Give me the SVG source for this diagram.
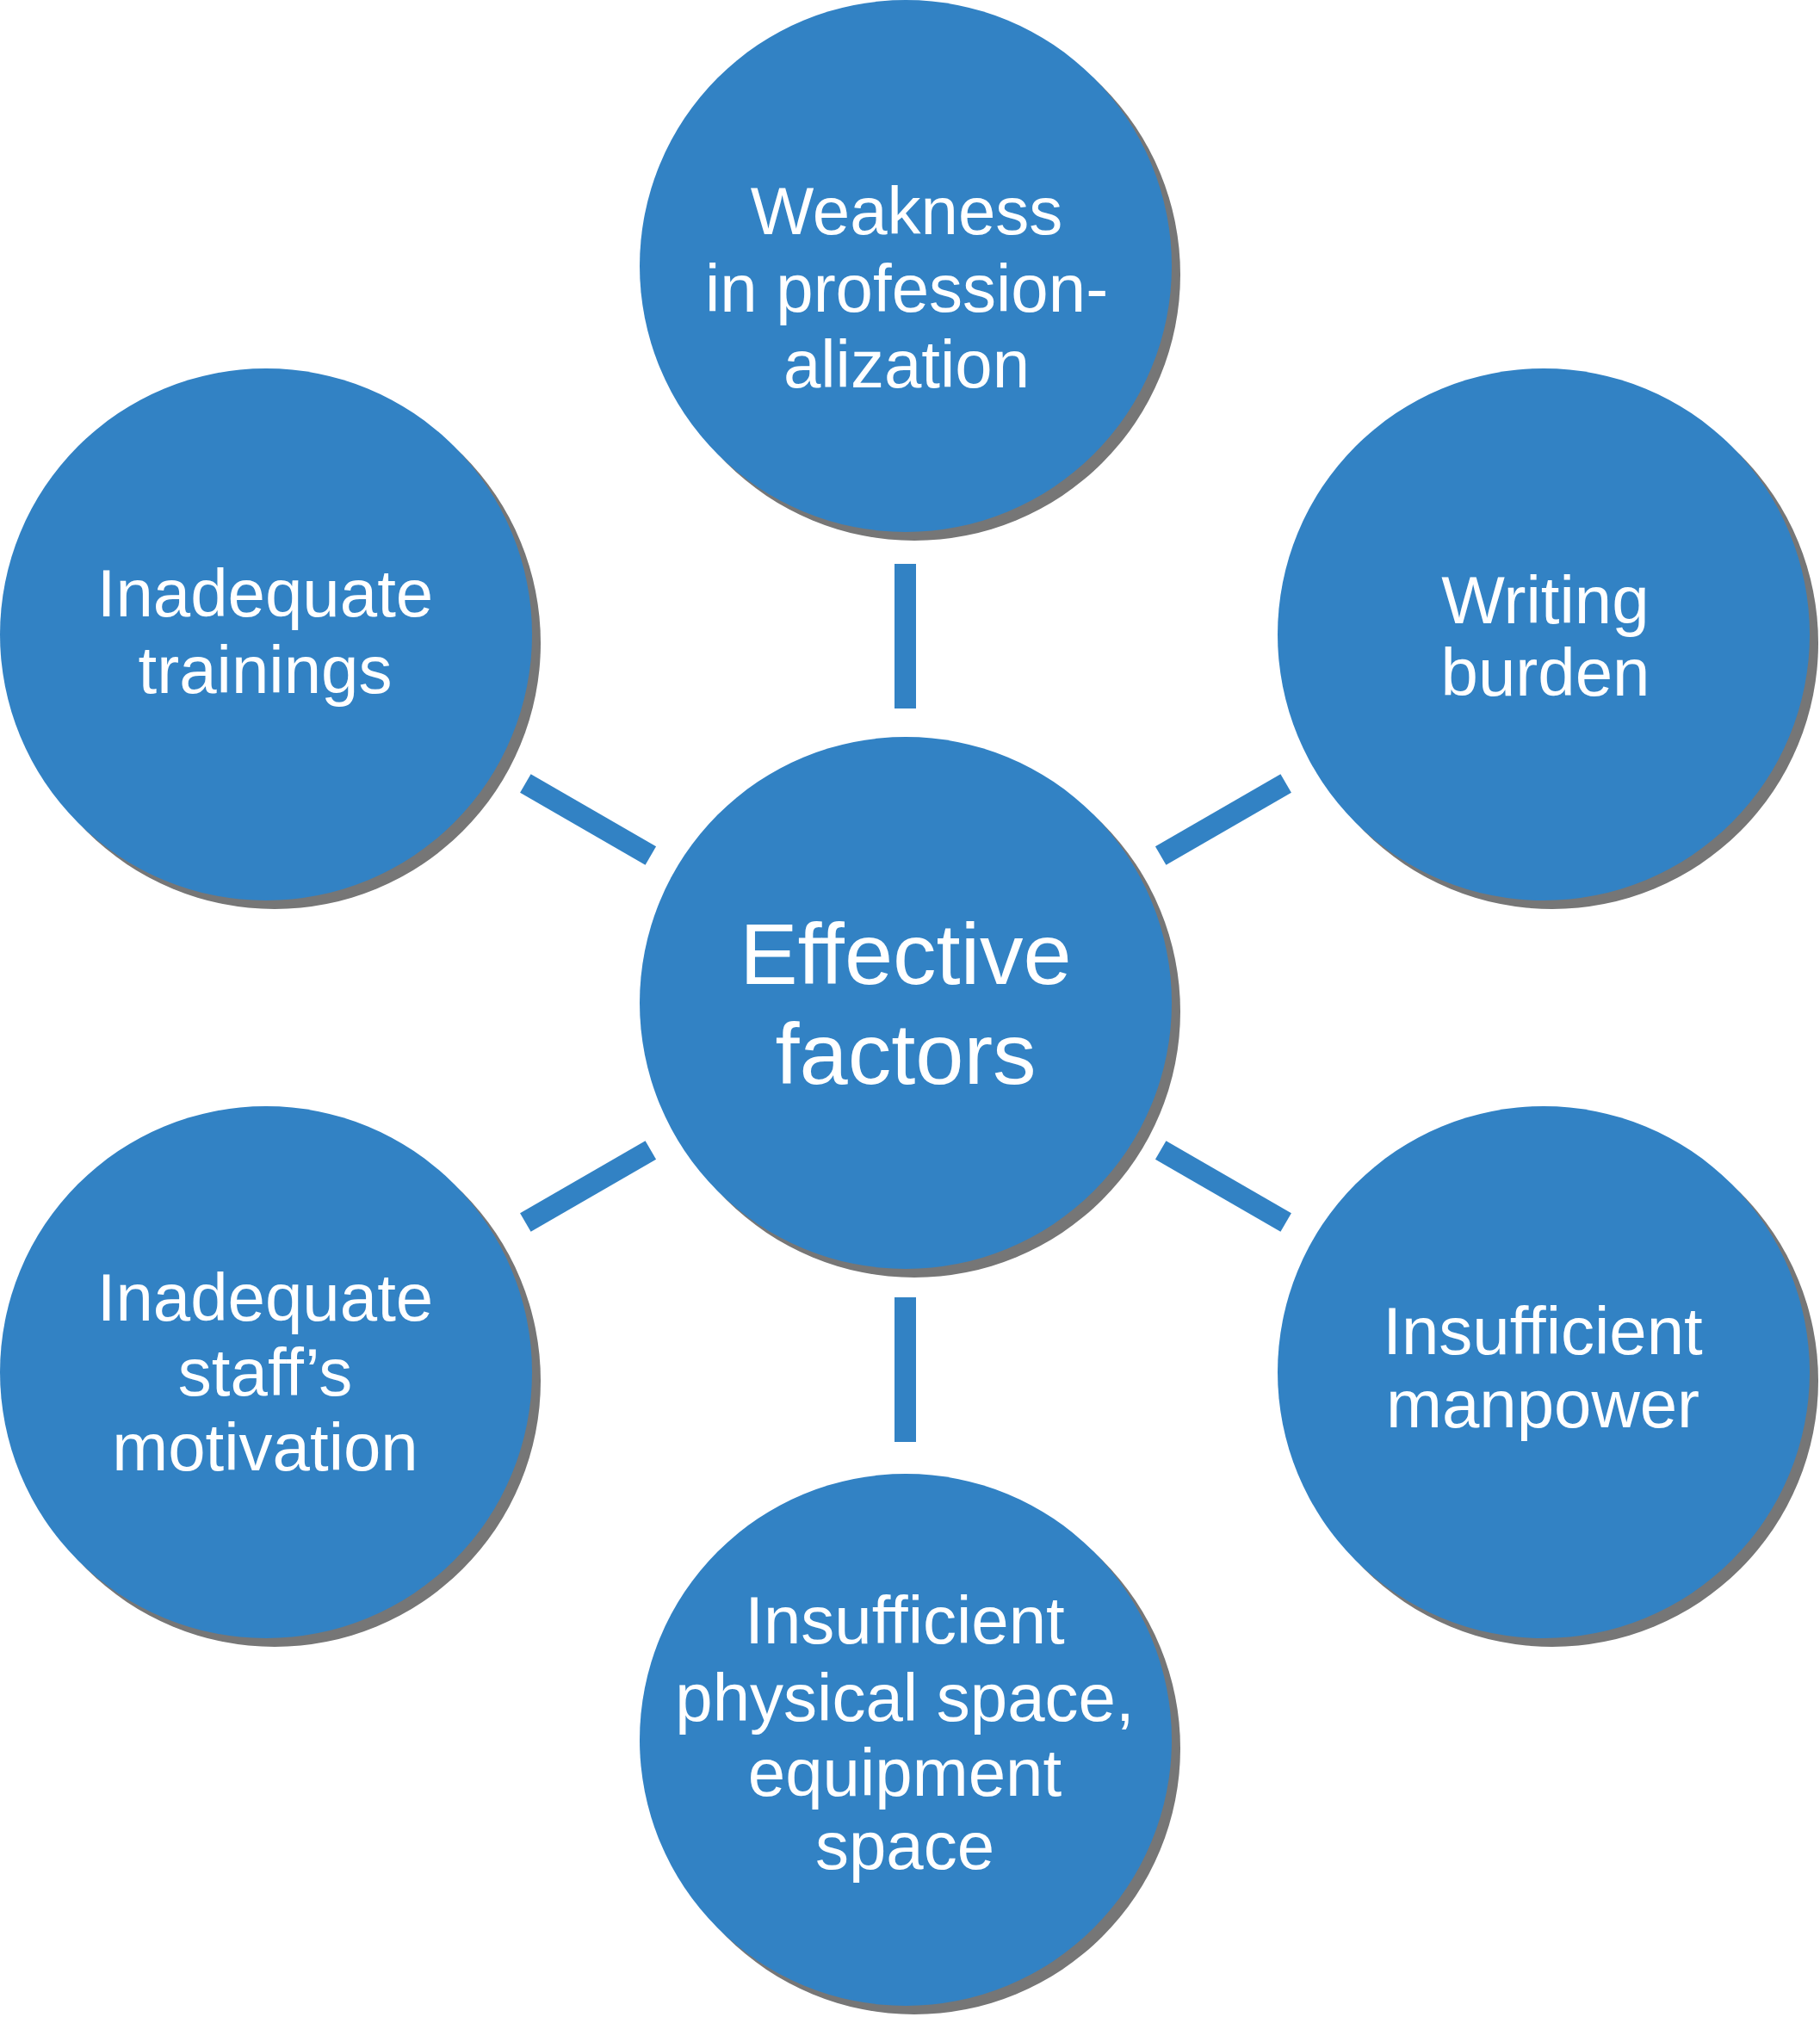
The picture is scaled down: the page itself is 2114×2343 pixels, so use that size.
<svg xmlns="http://www.w3.org/2000/svg" width="2114" height="2343" viewBox="0 0 2114 2343">
<style>
.sh{fill:#767676}
.c{fill:#3282C4}
.t{font-family:"Liberation Sans",Arial,sans-serif;fill:#ffffff;text-anchor:middle;font-size:78px}
.tc{font-size:101px}
.bar{fill:#3282C4}
</style>
<rect width="2114" height="2343" fill="#ffffff"/>
<g id="connectors">
<rect class="bar" x="1039" y="655" width="25" height="168"/>
<rect class="bar" x="1039" y="1507" width="25" height="168"/>
<rect class="bar" x="-84" y="-12.5" width="168" height="25" transform="translate(1052 1165) rotate(-30) translate(426 0)"/>
<rect class="bar" x="-84" y="-12.5" width="168" height="25" transform="translate(1052 1165) rotate(30) translate(426 0)"/>
<rect class="bar" x="-84" y="-12.5" width="168" height="25" transform="translate(1052 1165) rotate(150) translate(426 0)"/>
<rect class="bar" x="-84" y="-12.5" width="168" height="25" transform="translate(1052 1165) rotate(210) translate(426 0)"/>
</g>
<g id="center">
<circle class="sh" cx="1062" cy="1175" r="309"/>
<circle class="c" cx="1052" cy="1165" r="309"/>
<text class="t tc" x="1052" y="1143">Effective</text>
<text class="t tc" x="1052" y="1259">factors</text>
</g>
<g id="top">
<circle class="sh" cx="1062" cy="319" r="309"/>
<circle class="c" cx="1052" cy="309" r="309"/>
<text class="t" x="1053" y="272">Weakness</text>
<text class="t" x="1053" y="362">in profession-</text>
<text class="t" x="1053" y="450">alization</text>
</g>
<g id="upper-right">
<circle class="sh" cx="1803" cy="747" r="309"/>
<circle class="c" cx="1793" cy="737" r="309"/>
<text class="t" x="1795" y="724">Writing</text>
<text class="t" x="1795" y="808">burden</text>
</g>
<g id="lower-right">
<circle class="sh" cx="1803" cy="1604" r="309"/>
<circle class="c" cx="1793" cy="1594" r="309"/>
<text class="t" x="1792" y="1573">Insufficient</text>
<text class="t" x="1792" y="1658">manpower</text>
</g>
<g id="bottom">
<circle class="sh" cx="1062" cy="2031" r="309"/>
<circle class="c" cx="1052" cy="2021" r="309"/>
<text class="t" x="1051" y="1909">Insufficient</text>
<text class="t" x="1051" y="1999">physical space,</text>
<text class="t" x="1051" y="2086">equipment</text>
<text class="t" x="1051" y="2171">space</text>
</g>
<g id="lower-left">
<circle class="sh" cx="319" cy="1604" r="309"/>
<circle class="c" cx="309" cy="1594" r="309"/>
<text class="t" x="308" y="1534">Inadequate</text>
<text class="t" x="308" y="1621">staff’s</text>
<text class="t" x="308" y="1708">motivation</text>
</g>
<g id="upper-left">
<circle class="sh" cx="319" cy="747" r="309"/>
<circle class="c" cx="309" cy="737" r="309"/>
<text class="t" x="308" y="716">Inadequate</text>
<text class="t" x="308" y="805">trainings</text>
</g>
</svg>
